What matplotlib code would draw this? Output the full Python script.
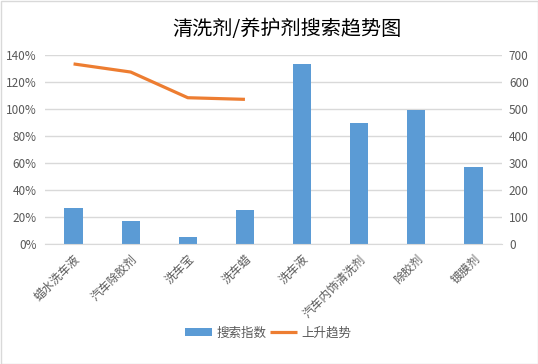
import matplotlib
matplotlib.use("Agg")
import matplotlib.pyplot as plt
from matplotlib.patches import Rectangle
import numpy as np

plt.rcParams['font.family'] = ['Noto Sans CJK SC', 'DejaVu Sans']

categories = ["蜡水洗车液", "汽车除胶剂", "洗车宝", "洗车蜡", "洗车液", "汽车内饰清洗剂", "除胶剂", "镀膜剂"]
search_index = [134, 86, 27, 127, 667, 449, 497, 286]
trend = [1.334, 1.274, 1.084, 1.072]
left_ticks = [0, 0.2, 0.4, 0.6, 0.8, 1.0, 1.2, 1.4]
right_ticks = [0, 100, 200, 300, 400, 500, 600, 700]

title = "清洗剂/养护剂搜索趋势图"
bar_label = "搜索指数"
line_label = "上升趋势"

bar_color = "#5B9BD5"
line_color = "#ED7D31"
text_color = "#595959"
grid_color = "#D9D9D9"

fig = plt.figure(figsize=(5.38, 3.64), dpi=100)
ax = fig.add_axes([45/538, 1-244.3/364, (502-45)/538, (244.3-55)/364])
ax2 = ax.twinx()

x = np.arange(len(categories))
bars = ax2.bar(x, search_index, width=0.32, color=bar_color, zorder=2, label=bar_label)
ax2.set_ylim(0, 700)
ax2.set_yticks(right_ticks)
ax2.set_yticklabels([str(v) for v in right_ticks])

line, = ax.plot(x[:len(trend)], trend, color=line_color, linewidth=2.3, solid_capstyle='butt', zorder=3, label=line_label)
ax.set_ylim(0, 1.4)
ax.set_yticks(left_ticks)
ax.set_yticklabels([f"{int(round(v*100))}%" for v in left_ticks])
ax.set_xlim(-0.5, len(categories) - 0.5)
ax.set_xticks(x)
ax.set_xticklabels(categories, rotation=45, ha='right', va='top', rotation_mode='anchor')

ax.set_zorder(ax2.get_zorder() + 1)
ax.patch.set_visible(False)

for a in (ax, ax2):
    for s in a.spines.values():
        s.set_visible(False)
    a.tick_params(axis='both', length=0, colors=text_color, labelsize=8.5)
ax.tick_params(axis='y', pad=6)
ax2.tick_params(axis='y', pad=5)
ax.tick_params(axis='x', pad=6)
ax2.grid(axis='y', color=grid_color, linewidth=1, zorder=0)
ax2.set_axisbelow(True)
ax.spines['bottom'].set_visible(True)
ax.spines['bottom'].set_color(grid_color)

fig.text(287/538, 1-30/364, title, ha='center', va='center', fontsize=14.5, color='#000000')

leg = fig.legend([bars, line], [bar_label, line_label], loc='center', bbox_to_anchor=(268/538, 1-333/364),
                 ncol=2, frameon=False, fontsize=9, handlelength=2.2, handleheight=0.6,
                 handletextpad=0.3, columnspacing=0.3, borderpad=0)
for t in leg.get_texts():
    t.set_color(text_color)

fig.patches.append(Rectangle((0.5/538, 0.5/364), 1-1/538, 1-1/364, transform=fig.transFigure,
                             fill=False, edgecolor="#D9D9D9", linewidth=1))

fig.savefig("out.png", dpi=100)
